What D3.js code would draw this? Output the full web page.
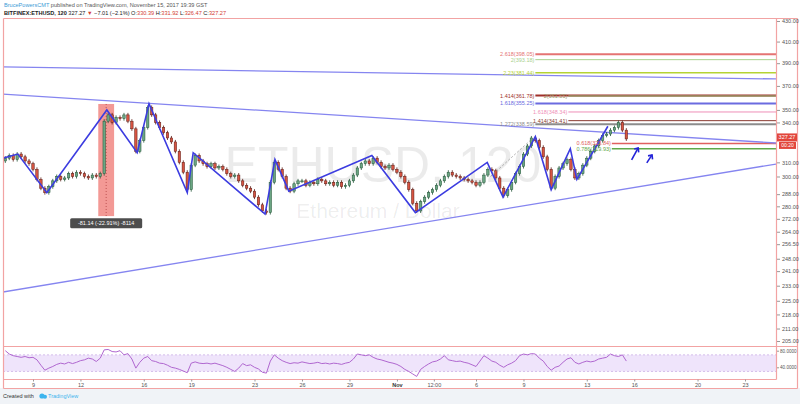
<!DOCTYPE html>
<html>
<head>
<meta charset="utf-8">
<script src="https://cdn.jsdelivr.net/npm/d3@7"></script>
<style>
body { margin: 0; background: #fff; font-family: "Liberation Sans", Arial, sans-serif; }
svg { display: block; }
</style>
</head>
<body>
<script>

// ---- data ----
// 6h candles from 2017-10-07 06:00 UTC, open = previous close
var candleStart = "2017-10-07 06:00";
var firstOpen = 311;
var closes = [313,315,312,
	316,314,311,309,
	305,298,292,289, 293,297,300,298, 299,302,300,303, 302,300,299,301,
	300,302,341,346, 340,344,343,346, 341,335,318,326, 336,352,346,340,
	336,332,328,325, 318,310,303,291, 308,315,311,309, 307,309,306,307,
	305,302,300,301, 297,294,292,290, 286,281,277,276, 296,310,305,300,
	292,290,295,297, 297,294,296,295, 298,297,295,296, 294,296,293,294,
	297,301,306,309, 311,309,313,310, 307,306,308,305,
	303,300,296,291, 282,277,283,286, 289,291,294,297, 300,303,301,300,
	299,298,297,296, 294,296,301,305, 304,299,292,287, 291,296,302,307,
	316,322,328,326, 321,314,305,292, 300,306,309,312, 305,299,302,308,
	313,318,322,326, 330,331,334,336,
	340,334,327.27];

var rsi = [80,72,68,66,64,66,63,64,58,45, 33,38,42,47,50,48,52,49,52,56,
	58,62,60,54,62,82,83,78,77,80, 70,73,60,38,52,62,66,56,54,50,
	49,45,40,38,35,31,27,50,53,50, 49,50,48,50,47,44,40,35,30,38,
	49,44,46,40,36,28,26,55,70,62, 56,52,49,51,50,53,51,49,50,52,
	49,50,48,50,49,47,50,52,60,72, 70,68,70,64,60,58,55,52,50,47,
	42,35,30,24,18,35,42,48,53,55, 60,68,58,56,54,55,52,50,46,42,
	55,68,62,55,52,45,40,46,50,56, 68,72,70,73,72,62,55,42,33,40,
	43,52,60,63,52,48,52,55,53,55, 60,62,64,72,68,66,70,55];

var zigzagDates = ["2017-10-07 02:00","2017-10-08 01:00","2017-10-09 21:00","2017-10-13 16:00",
	"2017-10-15 14:00","2017-10-16 08:00","2017-10-18 18:00","2017-10-19 03:00","2017-10-23 16:00",
	"2017-10-24 07:00","2017-10-25 04:00","2017-10-30 10:00","2017-11-02 04:00","2017-11-06 17:00",
	"2017-11-07 17:00","2017-11-09 18:00","2017-11-10 18:00","2017-11-11 23:00","2017-11-12 09:00",
	"2017-11-14 08:00"];
var zigzagPrices = [313,316,289,350,317,355,289,317,275,312,290,315,276,310,286,329,291,320,298,337];

var trendStart = "2017-10-07 02:00", trendEnd = "2017-11-24 23:00";
var trendFrom = [386.6, 363.1, 229.6];
var trendTo = [376.0, 324.2, 308.8];

var fibLabels = ["2.618(398.05)","2(393.18)","2.23(381.44)","1.414(361.78)","2(361.55)","1.618(355.25)",
	"1.618(348.34)","1.272(338.59)","1.414(341.41)","0.618(323.84)","0.786(319.93)"];
var fibPrices = [398.05,393.18,381.44,361.78,361.55,355.25,348.34,338.59,341.41,323.84,319.93];
var fibStarts = ["2017-11-09 18:00","2017-11-09 18:00","2017-11-09 18:00","2017-11-09 18:00","2017-11-11 20:00",
	"2017-11-09 18:00","2017-11-11 20:00","2017-11-09 18:00","2017-11-11 20:00","2017-11-14 14:00","2017-11-14 14:00"];

var rangeDates = ["2017-10-13 03:00", "2017-10-14 03:00"];
var rangePrices = [354.85, 273.71];
var rangeText = "-81.14 (-22.91%) -8114";

var dashDates = ["2017-11-06 22:00", "2017-11-09 10:00"];
var dashPrices = [300, 326];

var arrowDates = [["2017-11-15 20:00","2017-11-16 06:00"], ["2017-11-16 19:00","2017-11-17 03:00"]];
var arrowPrices = [[311.7, 320.5], [309.6, 315.4]];

var xTickDates = ["2017-10-09 00:00","2017-10-12 00:00","2017-10-16 00:00","2017-10-19 00:00","2017-10-23 00:00",
	"2017-10-26 00:00","2017-10-29 00:00","2017-11-01 00:00","2017-11-03 08:00","2017-11-06 00:00",
	"2017-11-09 00:00","2017-11-13 00:00","2017-11-16 00:00","2017-11-20 00:00","2017-11-23 00:00"];
var xTickLabels = ["9","12","16","19","23","26","29","Nov","12:00","6","9","13","16","20","23"];
var yTicks = [430,410,390,370,350,340,310,300,288,280,272,264,256.5,248,241,233,225,218,211,205];
var rsiTicks = [80, 40];
var rsiBand = [70, 30];
var lastPrice = 327.27, countdown = "00:20";

// ---- layout ----
var width = 800, height = 404;
var pane = {left: 3, right: 776, top: 18, bottom: 346};
var rsiPane = {top: 346, bottom: 379};
var axisRight = 797, footerTop = 388;

var fibColors = ["#e57373","#a9d18e","#b5d334","#a0302a","#9a9a6a","#6b6be0","#ef8fb8","#8c8c8c","#8a3a30","#e06060","#5fa84a"];
var fibWidths = [2, 1, 1.5, 2, 1.5, 2, 1, 2.2, 1, 1.6, 1.6];

var parseT = d3.utcParse("%Y-%m-%d %H:%M");

var x = d3.scaleUtc()
	.domain([parseT("2017-10-09 00:00"), parseT("2017-11-23 00:00")])
	.range([33, 745]);
var y = d3.scaleLog().domain([205, 430]).range([341, 21]);
var yRsi = d3.scaleLinear().domain([40, 80]).range([367.3, 350.7]);

var svg = d3.select("body").append("svg").attr("width", width).attr("height", height);

svg.append("rect").attr("width", width).attr("height", height).attr("fill", "#fff");
svg.append("rect").attr("y", footerTop).attr("width", width).attr("height", height - footerTop).attr("fill", "#f0f3f7");

var defs = svg.append("defs");
defs.append("clipPath").attr("id", "mainClip").append("rect")
	.attr("x", pane.left).attr("y", pane.top)
	.attr("width", pane.right - pane.left).attr("height", pane.bottom - pane.top);
defs.append("clipPath").attr("id", "rsiClip").append("rect")
	.attr("x", pane.left).attr("y", rsiPane.top)
	.attr("width", pane.right - pane.left).attr("height", rsiPane.bottom - rsiPane.top);

var main = svg.append("g").attr("clip-path", "url(#mainClip)");

// watermark
main.append("text")
	.attr("x", 383).attr("y", 182)
	.attr("text-anchor", "middle")
	.attr("font-size", "50px")
	.attr("fill", "#000").attr("fill-opacity", 0.08)
	.text("ETHUSD, 120");
main.append("text")
	.attr("x", 378).attr("y", 218)
	.attr("text-anchor", "middle")
	.attr("font-size", "21px")
	.attr("fill", "#000").attr("fill-opacity", 0.08)
	.text("Ethereum / Dollar");

// fib levels
fibPrices.forEach(function(p, i){
	main.append("line")
		.attr("x1", x(parseT(fibStarts[i]))).attr("x2", pane.right)
		.attr("y1", y(p)).attr("y2", y(p))
		.attr("stroke", fibColors[i]).attr("stroke-width", fibWidths[i]);
});

// trend lines
trendFrom.forEach(function(p, i){
	main.append("line")
		.attr("x1", x(parseT(trendStart))).attr("y1", y(p))
		.attr("x2", x(parseT(trendEnd))).attr("y2", y(trendTo[i]))
		.attr("stroke", "#8585f0").attr("stroke-width", 1.3);
});

// date/price range highlight
var rx0 = x(parseT(rangeDates[0])), rx1 = x(parseT(rangeDates[1]));
main.append("rect")
	.attr("x", rx0).attr("y", y(rangePrices[0]))
	.attr("width", rx1 - rx0).attr("height", y(rangePrices[1]) - y(rangePrices[0]))
	.attr("fill", "#f07f7b").attr("fill-opacity", 0.8);
main.append("line")
	.attr("x1", (rx0 + rx1) / 2).attr("x2", (rx0 + rx1) / 2)
	.attr("y1", y(rangePrices[0])).attr("y2", y(rangePrices[1]))
	.attr("stroke", "#b04040").attr("stroke-dasharray", "1,2").attr("stroke-width", 0.8);

// candles
var step = 6 * 3600e3;
var t0 = parseT(candleStart).getTime();
var candles = closes.map(function(c, i){
	return {date: new Date(t0 + i * step), open: i === 0 ? firstOpen : closes[i - 1], close: c};
});
var bw = (x(new Date(t0 + step)) - x(new Date(t0))) * 0.62;

var cg = main.append("g");
cg.selectAll("line.wick").data(candles).enter().append("line")
	.attr("class", "wick")
	.attr("x1", function(d){ return x(d.date); })
	.attr("x2", function(d){ return x(d.date); })
	.attr("y1", function(d){ return y(Math.max(d.open, d.close)) - 2; })
	.attr("y2", function(d){ return y(Math.min(d.open, d.close)) + 2; })
	.attr("stroke", function(d){ return d.close >= d.open ? "#225437" : "#5b1a13"; })
	.attr("stroke-width", 0.8);
cg.selectAll("rect.body").data(candles).enter().append("rect")
	.attr("class", "body")
	.attr("x", function(d){ return x(d.date) - bw / 2; })
	.attr("y", function(d){ return y(Math.max(d.open, d.close)); })
	.attr("width", bw)
	.attr("height", function(d){ return Math.max(1, Math.abs(y(d.open) - y(d.close))); })
	.attr("fill", function(d){ return d.close >= d.open ? "#6ba583" : "#d75442"; })
	.attr("stroke", function(d){ return d.close >= d.open ? "#225437" : "#5b1a13"; })
	.attr("stroke-width", 0.5);

// zigzag
var zz = zigzagDates.map(function(d, i){ return {date: parseT(d), price: zigzagPrices[i]}; });
main.append("path")
	.datum(zz)
	.attr("fill", "none")
	.attr("stroke", "#3c3ce0").attr("stroke-width", 1.6)
	.attr("d", d3.line().x(function(d){ return x(d.date); }).y(function(d){ return y(d.price); }));

// dashed projection
main.append("line")
	.attr("x1", x(parseT(dashDates[0]))).attr("y1", y(dashPrices[0]))
	.attr("x2", x(parseT(dashDates[1]))).attr("y2", y(dashPrices[1]))
	.attr("stroke", "#999").attr("stroke-dasharray", "2,2").attr("stroke-width", 0.8);

// arrows
arrowDates.forEach(function(a, i){
	var x1 = x(parseT(a[0])), y1 = y(arrowPrices[i][0]);
	var x2 = x(parseT(a[1])), y2 = y(arrowPrices[i][1]);
	main.append("line").attr("x1", x1).attr("y1", y1).attr("x2", x2).attr("y2", y2)
		.attr("stroke", "#2323d8").attr("stroke-width", 1.6);
	main.append("path")
		.attr("d", "M" + (x2 - 4) + "," + (y2 + 1) + "L" + x2 + "," + y2 + "L" + (x2 + 0.5) + "," + (y2 + 4.5))
		.attr("fill", "none").attr("stroke", "#2323d8").attr("stroke-width", 1.6);
});

// fib labels
fibLabels.forEach(function(l, i){
	main.append("text")
		.attr("x", x(parseT(fibStarts[i])) - 1).attr("y", y(fibPrices[i]))
		.attr("dy", "0.35em")
		.attr("text-anchor", "end")
		.attr("font-size", "5.5px")
		.attr("fill", fibColors[i])
		.text(l);
});

// range label
var lbl = svg.append("g").attr("transform", "translate(" + ((rx0 + rx1) / 2) + "," + (y(rangePrices[1]) + 7) + ")");
lbl.append("rect").attr("x", -36).attr("y", -5).attr("width", 72).attr("height", 10).attr("rx", 1.5)
	.attr("fill", "#4d4d4d");
lbl.append("text").attr("text-anchor", "middle").attr("dy", "0.35em")
	.attr("font-size", "5.5px").attr("fill", "#fff").text(rangeText);

// rsi pane
var rg = svg.append("g").attr("clip-path", "url(#rsiClip)");
rg.append("rect")
	.attr("x", pane.left).attr("width", pane.right - pane.left)
	.attr("y", yRsi(rsiBand[0])).attr("height", yRsi(rsiBand[1]) - yRsi(rsiBand[0]))
	.attr("fill", "#efe4fb");
rsiBand.forEach(function(v){
	rg.append("line")
		.attr("x1", pane.left).attr("x2", pane.right)
		.attr("y1", yRsi(v)).attr("y2", yRsi(v))
		.attr("stroke", "#c6a7e2").attr("stroke-dasharray", "2,2").attr("stroke-width", 0.7);
});
rg.append("path")
	.datum(rsi)
	.attr("fill", "none").attr("stroke", "#b067d0").attr("stroke-width", 1)
	.attr("d", d3.line().x(function(d, i){ return x(candles[i].date); }).y(function(d){ return yRsi(d); }));

// borders
var border = "#f2a3a3";
[[pane.left, pane.top, axisRight, pane.top],
 [pane.left, pane.bottom, axisRight, pane.bottom],
 [pane.left, rsiPane.bottom, pane.right, rsiPane.bottom],
 [pane.left, footerTop, axisRight, footerTop],
 [pane.left, pane.top, pane.left, footerTop],
 [pane.right, pane.top, pane.right, rsiPane.bottom],
 [axisRight, pane.top, axisRight, footerTop]].forEach(function(s){
	svg.append("line").attr("x1", s[0] + 0.5).attr("y1", s[1] + 0.5).attr("x2", s[2] + 0.5).attr("y2", s[3] + 0.5)
		.attr("stroke", border).attr("stroke-width", 1.2);
});

// axes
var yAxis = d3.axisRight(y).tickValues(yTicks).tickFormat(d3.format(".2f")).tickSize(3).tickPadding(2);
var ya = svg.append("g").attr("transform", "translate(" + (pane.right + 1) + ",0)").call(yAxis);
var rsiAxis = d3.axisRight(yRsi).tickValues(rsiTicks).tickFormat(d3.format(".4f")).tickSize(2).tickPadding(1);
var ra = svg.append("g").attr("transform", "translate(" + (pane.right + 1) + ",0)").call(rsiAxis);
var xAxis = d3.axisBottom(x).tickValues(xTickDates.map(parseT))
	.tickFormat(function(d, i){ return xTickLabels[i]; }).tickSize(2).tickPadding(1.5);
var xa = svg.append("g").attr("transform", "translate(0," + (rsiPane.bottom + 0.5) + ")").call(xAxis);
[ya, ra, xa].forEach(function(g){
	g.select(".domain").remove();
	g.selectAll(".tick line").attr("stroke", "#999");
	g.selectAll(".tick text").attr("font-size", "5.5px").attr("fill", "#555")
		.attr("font-family", "\"Liberation Sans\", Arial, sans-serif");
});
ra.selectAll(".tick text").attr("font-size", "4.6px");
xa.selectAll(".tick text").filter(function(d, i){ return xTickLabels[i] === "Nov"; })
	.attr("font-weight", "bold").attr("fill", "#333");

// last price labels
var ly = y(lastPrice);
svg.append("rect").attr("x", pane.right + 1).attr("y", ly - 5.5).attr("width", 20).attr("height", 8).attr("fill", "#e2463c");
svg.append("text").attr("x", pane.right + 11).attr("y", ly - 1.5).attr("dy", "0.35em").attr("text-anchor", "middle")
	.attr("font-size", "5.5px").attr("fill", "#fff").text(lastPrice.toFixed(2));
svg.append("rect").attr("x", pane.right + 3).attr("y", ly + 3).attr("width", 17).attr("height", 7).attr("fill", "#e2463c");
svg.append("text").attr("x", pane.right + 11.5).attr("y", ly + 6.5).attr("dy", "0.35em").attr("text-anchor", "middle")
	.attr("font-size", "5px").attr("fill", "#fff").text(countdown);

// header
var h1 = svg.append("text").attr("x", 4).attr("y", 7).attr("font-size", "5.6px");
h1.append("tspan").attr("fill", "#3d9bd6").text("BrucePowersCMT");
h1.append("tspan").attr("fill", "#555").text(" published on TradingView.com, November 15, 2017 19:39 GST");

var h2 = svg.append("text").attr("x", 4).attr("y", 14.5).attr("font-size", "5.6px").attr("fill", "#222");
h2.append("tspan").attr("font-weight", "bold").text("BITFINEX:ETHUSD, 120");
h2.append("tspan").text(" 327.27 ");
h2.append("tspan").attr("fill", "#d23c32").text("\u25BC");
h2.append("tspan").text(" \u22127.01 (\u22122.1%) O:");
h2.append("tspan").attr("fill", "#d23c32").text("330.39");
h2.append("tspan").text(" H:");
h2.append("tspan").attr("fill", "#d23c32").text("331.92");
h2.append("tspan").text(" L:");
h2.append("tspan").attr("fill", "#d23c32").text("326.47");
h2.append("tspan").text(" C:");
h2.append("tspan").attr("fill", "#d23c32").text("327.27");

// footer
svg.append("text").attr("x", 3).attr("y", 398).attr("font-size", "5.5px").attr("fill", "#333").text("Created with");
var logo = svg.append("g").attr("transform", "translate(42,396)");
logo.append("circle").attr("cx", 0).attr("cy", 0).attr("r", 2.6).attr("fill", "#3cb4ee");
logo.append("circle").attr("cx", 3).attr("cy", 0.8).attr("r", 2).attr("fill", "#3cb4ee");
svg.append("text").attr("x", 48).attr("y", 398).attr("font-size", "5.5px").attr("fill", "#3cb4ee").text("TradingView");

</script>
</body>
</html>
